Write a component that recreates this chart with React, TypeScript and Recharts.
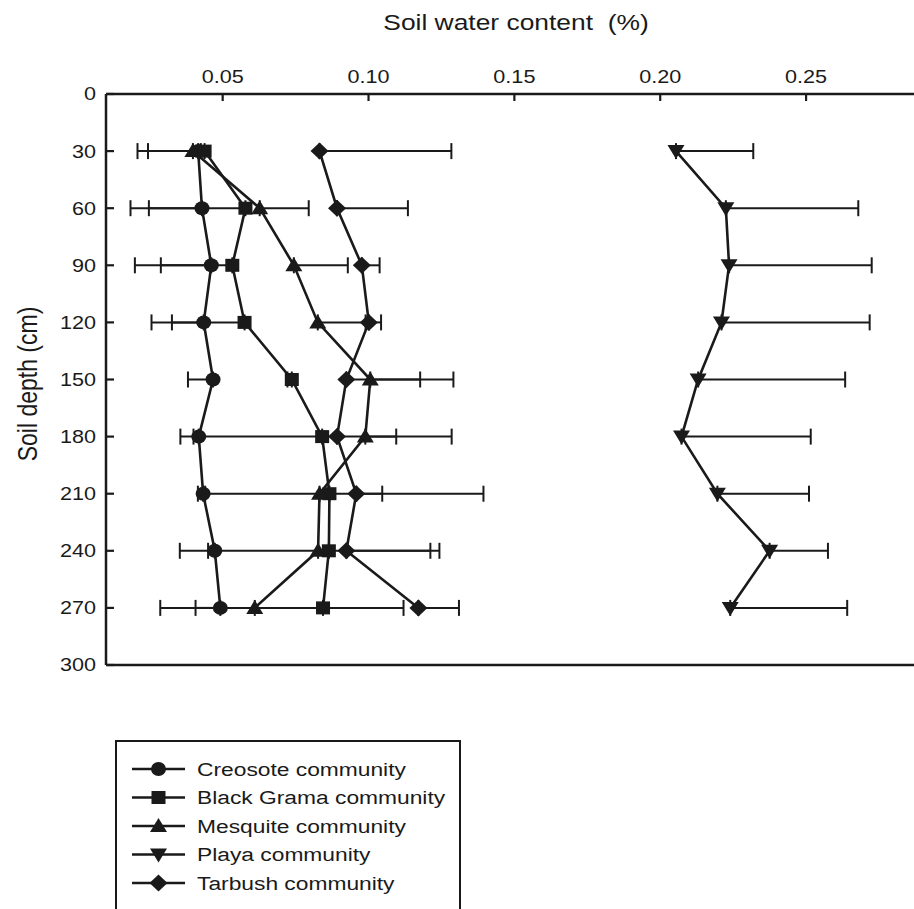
import React from 'react';
import { ScatterChart, Scatter, XAxis, YAxis, ErrorBar, ReferenceLine, Legend } from 'recharts';

// depth (cm) and soil water content per community
const depths = [30, 60, 90, 120, 150, 180, 210, 240, 270];
const depthTicks = [0, 30, 60, 90, 120, 150, 180, 210, 240, 270, 300];
const contentTicks = [0.05, 0.1, 0.15, 0.2, 0.25];

const creosote = [0.0416, 0.0429, 0.0461, 0.0435, 0.0467, 0.0418, 0.0433, 0.0473, 0.0492];
const creosoteLow = [0.0244, 0.0247, 0.0288, 0.0326, 0.0381, 0.04, 0.0415, 0.045, 0.0407];
const blackGrama = [0.0438, 0.0578, 0.0533, 0.0575, 0.0737, 0.0841, 0.0866, 0.0864, 0.0844];
const blackGramaLow = [0.0208, 0.0184, 0.0199, 0.0256, 0.0722, 0.0355, 0.044, 0.0353, 0.0286];
const mesquite = [0.0398, 0.0627, 0.0744, 0.0826, 0.1006, 0.0989, 0.0832, 0.0827, 0.061];
const mesquiteHigh = [0.0425, 0.0795, 0.0929, 0.099, 0.1177, 0.1095, 0.1047, 0.1212, 0.112];
const playa = [0.2054, 0.2225, 0.2236, 0.221, 0.213, 0.2073, 0.2196, 0.2375, 0.224];
const playaHigh = [0.2319, 0.2679, 0.2725, 0.2718, 0.2634, 0.2516, 0.251, 0.2575, 0.2641];
const tarbush = [0.0832, 0.0892, 0.0977, 0.1001, 0.0924, 0.0892, 0.0958, 0.0924, 0.1171];
const tarbushHigh = [0.1284, 0.1135, 0.1038, 0.1043, 0.1291, 0.1285, 0.1394, 0.1243, 0.131];

const INK = '#1a1a1a';
const FONT = 'Liberation Sans, Arial, sans-serif';

const leftRows = (vals: number[], ends: number[]) =>
  depths.map((d, i) => ({ depth: d, v: vals[i], err: [vals[i] - ends[i], 0] }));
const rightRows = (vals: number[], ends: number[]) =>
  depths.map((d, i) => ({ depth: d, v: vals[i], err: [0, ends[i] - vals[i]] }));

const marker = (kind: string, cx: number, cy: number) => {
  switch (kind) {
    case 'circle':
      return <ellipse cx={cx} cy={cy} rx={7.5} ry={7} fill={INK} />;
    case 'square':
      return <rect x={cx - 7} y={cy - 6.5} width={14} height={13} fill={INK} />;
    case 'up':
      return <polygon points={`${cx - 8.5},${cy + 6} ${cx + 8.5},${cy + 6} ${cx},${cy - 8}`} fill={INK} />;
    case 'down':
      return <polygon points={`${cx - 8.5},${cy - 6} ${cx + 8.5},${cy - 6} ${cx},${cy + 8}`} fill={INK} />;
    default:
      return <polygon points={`${cx - 9},${cy} ${cx},${cy - 8.5} ${cx + 9},${cy} ${cx},${cy + 8.5}`} fill={INK} />;
  }
};

const series = [
  { name: 'Creosote community', kind: 'circle', data: leftRows(creosote, creosoteLow) },
  { name: 'Black Grama community', kind: 'square', data: leftRows(blackGrama, blackGramaLow) },
  { name: 'Mesquite community', kind: 'up', data: rightRows(mesquite, mesquiteHigh) },
  { name: 'Playa community', kind: 'down', data: rightRows(playa, playaHigh) },
  { name: 'Tarbush community', kind: 'diamond', data: rightRows(tarbush, tarbushHigh) },
];

const XTick = (props: any) => {
  const { x, y, payload } = props;
  return (
    <g>
      <line x1={x} y1={y + 11} x2={x} y2={y + 18} stroke={INK} strokeWidth={2.2} />
      <text transform={`translate(${x},${y}) scale(1.2,1)`} textAnchor="middle" fontSize={18}
        fontFamily={FONT} fill={INK}>
        {payload.value.toFixed(2)}
      </text>
    </g>
  );
};

const YTick = (props: any) => {
  const { x, y, payload } = props;
  return (
    <g>
      <line x1={x + 11} y1={y} x2={x + 18} y2={y} stroke={INK} strokeWidth={2.2} />
      <text transform={`translate(${x},${y}) scale(1.2,1)`} textAnchor="end" dy="0.36em" fontSize={18}
        fontFamily={FONT} fill={INK}>
        {payload.value}
      </text>
    </g>
  );
};

// legend keeps the series order of the figure
const renderLegend = () => (
  <svg width={346} height={175}>
    <rect x={1} y={1} width={344} height={220} fill="#fff" stroke={INK} strokeWidth={2} />
    {series.map((s, i) => {
      const cy = 29 + i * 28.5;
      return (
        <g key={s.name}>
          <line x1={17} y1={cy} x2={70} y2={cy} stroke={INK} strokeWidth={2.6} />
          {marker(s.kind, 43.5, cy)}
          <text transform={`translate(82,${cy}) scale(1.2,1)`} dy="0.36em" fontSize={19}
            fontFamily={FONT} fill={INK}>
            {s.name}
          </text>
        </g>
      );
    })}
  </svg>
);

export default function App() {
  return (
    <div style={{ position: 'absolute', left: 0, top: 0, width: 914, height: 909, overflow: 'hidden', background: '#fff' }}>
      <ScatterChart width={914} height={909} margin={{ top: 34, right: 0, bottom: 244, left: 0 }}>
        <XAxis
          type="number"
          dataKey="v"
          orientation="top"
          height={60}
          domain={[0.01, 0.287]}
          allowDataOverflow
          ticks={contentTicks}
          tick={<XTick />}
          tickLine={false}
          tickSize={0}
          tickMargin={11}
          axisLine={{ stroke: INK, strokeWidth: 2.5 }}
          label={{
            value: 'Soil water content  (%)',
            content: () => (
              <text transform="translate(516,30) scale(1.2,1)" textAnchor="middle" fontSize={22}
                fontFamily={FONT} fill={INK}>
                Soil water content{'\u00a0'} (%)
              </text>
            ),
          }}
        />
        <YAxis
          type="number"
          dataKey="depth"
          width={106}
          reversed
          domain={[0, 300]}
          allowDataOverflow
          ticks={depthTicks}
          tick={<YTick />}
          tickLine={false}
          tickSize={0}
          tickMargin={10}
          axisLine={{ stroke: INK, strokeWidth: 2.5 }}
          label={{
            value: 'Soil depth (cm)',
            content: () => (
              <text transform="translate(37,384) scale(1.2,1) rotate(-90)" textAnchor="middle" fontSize={23}
                fontFamily={FONT} fill={INK}>
                Soil depth (cm)
              </text>
            ),
          }}
        />
        <ReferenceLine y={300} stroke={INK} strokeWidth={2.5} ifOverflow="visible" />
        <Legend
          layout="vertical"
          align="center"
          verticalAlign="middle"
          content={renderLegend}
          wrapperStyle={{ left: 115, top: 740, width: 346, height: 175 }}
        />
        {series.map((s) => (
          <Scatter
            key={s.name}
            name={s.name}
            data={s.data}
            line={{ stroke: INK, strokeWidth: 2.6 }}
            lineJointType="linear"
            shape={(p: any) => marker(s.kind, p.cx, p.cy)}
            isAnimationActive={false}
          >
            <ErrorBar dataKey="err" direction="x" width={8} stroke={INK} strokeWidth={2} />
          </Scatter>
        ))}
      </ScatterChart>
    </div>
  );
}
